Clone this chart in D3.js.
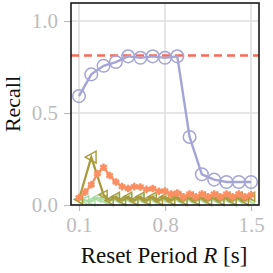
<!DOCTYPE html>
<html><head><meta charset="utf-8">
<script src="https://cdn.jsdelivr.net/npm/d3@7"></script>
<style>body{margin:0;background:#fff}svg{display:block}</style>
</head><body>
<svg id="c" width="273" height="273"></svg>
<script>
const xTicks = [0.1, 0.8, 1.5];
const yTicks = [0.0, 0.5, 1.0];
const baseline = 0.813;
const xCircle = [0.1,0.2,0.3,0.4,0.5,0.6,0.7,0.8,0.9,1.0,1.1,1.2,1.3,1.4,1.5];
const yCircle = [0.592,0.71,0.757,0.777,0.808,0.80,0.808,0.80,0.808,0.37,0.167,0.138,0.125,0.125,0.125];
const xStar = [0.1,0.15,0.2,0.25,0.3,0.35,0.4,0.45,0.5,0.55,0.6,0.65,0.7,0.75,0.8,0.85,0.9,0.95,1.0,1.05,1.1,1.15,1.2,1.25,1.3,1.35,1.4,1.45,1.5];
const yStar = [0.04,0.07,0.11,0.17,0.205,0.16,0.125,0.1,0.09,0.1,0.098,0.085,0.09,0.075,0.076,0.06,0.065,0.045,0.06,0.045,0.06,0.045,0.06,0.045,0.06,0.045,0.06,0.045,0.055];
const xOlive = [0.1,0.2,0.3,0.35,0.4,0.45,0.5,0.55,0.6,0.65,0.7,0.75,0.8,0.85,0.9,0.95,1.0,1.05,1.1,1.15,1.2,1.25,1.3,1.35,1.4,1.45,1.5];
const yOlive = [0.03,0.26,0.055,0.025,0.045,0.025,0.045,0.025,0.045,0.025,0.045,0.025,0.045,0.025,0.045,0.025,0.045,0.025,0.045,0.025,0.045,0.025,0.045,0.025,0.045,0.025,0.045];
const xGreen = [0.1,0.15,0.2,0.25,0.3,0.35,0.4,0.45,0.5,0.55,0.6,0.65,0.7,0.75,0.8,0.85,0.9,0.95,1.0,1.05,1.1,1.15,1.2,1.25,1.3,1.35,1.4,1.45,1.5];
const yGreen = [0.03,0.025,0.02,0.04,0.03,0.02,0.035,0.02,0.035,0.02,0.035,0.02,0.035,0.02,0.035,0.02,0.035,0.02,0.035,0.02,0.035,0.02,0.035,0.02,0.035,0.02,0.035,0.02,0.03];

const svg = d3.select("#c");
const L=71,R=259,T=3,B=205;
const x = d3.scaleLinear().domain([0.035,1.565]).range([L,R]);
const y = d3.scaleLinear().domain([0,1.098]).range([B,T]);
const font = "'Liberation Serif', serif";
const tickCol = "#bdbdbd";

// grid
svg.append("g").selectAll("line").data(xTicks).join("line")
  .attr("x1",d=>x(d)).attr("x2",d=>x(d)).attr("y1",T).attr("y2",B)
  .attr("stroke","#dedede").attr("stroke-width",1.5);
svg.append("g").selectAll("line").data(yTicks).join("line")
  .attr("y1",d=>y(d)).attr("y2",d=>y(d)).attr("x1",L).attr("x2",R)
  .attr("stroke","#dedede").attr("stroke-width",1.5);

// axes
const xAxis = svg.append("g").attr("transform",`translate(0,${B})`)
  .call(d3.axisBottom(x).tickValues(xTicks).tickFormat(d3.format(".1f")).tickSize(6).tickPadding(6));
const yAxis = svg.append("g").attr("transform",`translate(${L},0)`)
  .call(d3.axisLeft(y).tickValues(yTicks).tickFormat(d3.format(".1f")).tickSize(7).tickPadding(6));
[xAxis,yAxis].forEach(a=>{
  a.select(".domain").remove();
  a.selectAll(".tick line").attr("stroke",tickCol).attr("stroke-width",1.2);
  a.selectAll(".tick text").attr("fill",tickCol).style("font-family",font).style("font-size","21px");
});

const line = (xs,ys)=>d3.line().x((d,i)=>x(xs[i])).y(d=>y(d))(ys);

// baseline dashed
svg.append("line").attr("x1",L).attr("x2",R).attr("y1",y(baseline)).attr("y2",y(baseline))
  .attr("stroke","#fa6a55").attr("stroke-width",2.4).attr("stroke-dasharray","8,5");

const tri = (cx,cy,s)=>`M${cx-s},${cy}L${cx+s*0.8},${cy-s}L${cx+s*0.8},${cy+s}Z`;

// green
const cG="#a8dba0";
svg.append("path").attr("d",line(xGreen,yGreen)).attr("fill","none").attr("stroke",cG).attr("stroke-width",2.3);
svg.append("g").selectAll("path").data(yGreen).join("path")
  .attr("d",(d,i)=>tri(x(xGreen[i]),y(d),4.5)).attr("fill","none").attr("stroke",cG).attr("stroke-width",1.4);

// olive
const cO="#a99b3c";
svg.append("path").attr("d",line(xOlive,yOlive)).attr("fill","none").attr("stroke",cO).attr("stroke-width",2.3);
svg.append("g").selectAll("path").data(yOlive).join("path")
  .attr("d",(d,i)=>tri(x(xOlive[i]),y(d),(i===1?6:4.5))).attr("fill","none").attr("stroke",cO).attr("stroke-width",1.4);

// orange stars
const cS="#fc8f62";
svg.append("path").attr("d",line(xStar,yStar)).attr("fill","none").attr("stroke",cS).attr("stroke-width",2.3);
svg.append("g").selectAll("path").data(yStar).join("path")
  .attr("transform",(d,i)=>`translate(${x(xStar[i])},${y(d)})`)
  .attr("d",d3.symbol(d3.symbolAsterisk,40)).attr("fill","none").attr("stroke",cS).attr("stroke-width",2.4);

// lavender circles
const cC="#a4a4d6";
svg.append("path").attr("d",line(xCircle,yCircle)).attr("fill","none").attr("stroke",cC).attr("stroke-width",2.4);
svg.append("g").selectAll("circle").data(yCircle).join("circle")
  .attr("cx",(d,i)=>x(xCircle[i])).attr("cy",d=>y(d)).attr("r",6.3)
  .attr("fill","none").attr("stroke",cC).attr("stroke-width",1.5);

// frame
svg.append("rect").attr("x",L).attr("y",T).attr("width",R-L).attr("height",B-T)
  .attr("fill","none").attr("stroke","#1a1a1a").attr("stroke-width",1.6);

// labels
svg.append("text").attr("x",164).attr("y",263).attr("text-anchor","middle")
  .style("font-family",font).style("font-size","23px").attr("fill","#111")
  .html('Reset Period <tspan font-style="italic">R</tspan> [s]');
svg.append("text").attr("transform","translate(20,104) rotate(-90)").attr("text-anchor","middle")
  .style("font-family",font).style("font-size","22px").attr("fill","#111").text("Recall");
</script>
</body></html>
